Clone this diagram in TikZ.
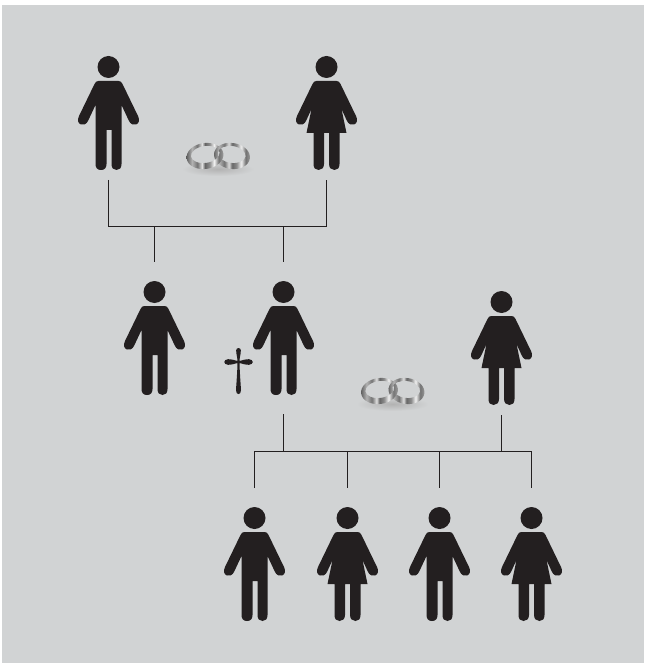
\documentclass[tikz,border=0pt]{standalone}
\usepackage{amsmath,amssymb,graphicx,tikz}
\usetikzlibrary{calc}

\definecolor{paper}{HTML}{D1D3D4}
\definecolor{ink}{HTML}{231F20}
\pgfdeclarehorizontalshading{metal}{100bp}{
  color(0bp)=(black!75); color(25bp)=(black!65); color(33bp)=(black!30); color(40bp)=(black!55);
  color(46bp)=(black!12); color(50bp)=(black!60); color(56bp)=(black!45); color(62bp)=(black!5);
  color(68bp)=(black!55); color(76bp)=(black!35); color(100bp)=(black!75)}

\tikzset{
  figure/.style={fill=ink, draw=none},
  wire/.style={draw=ink, line width=0.8pt},
  even odd clip/.code={\pgfseteorule},
  man/.pic={
    \fill[figure] (0,0) circle (11);
    \fill[figure] (-10,14) -- (10,14) .. controls (12,14) and (13,15) .. (14,17)
      -- (29.500,49) .. controls (31.500,53) and (30.500,56.500) .. (27.500,57.500) .. controls (25,58.500) and (22,57) .. (20.500,54)
      -- (13,38) -- (13,97) .. controls (13,101) and (11,103) .. (8,103) .. controls (5,103) and (3,101) .. (3,97)
      -- (3,63) -- (-2,63) -- (-2,97) .. controls (-2,101) and (-4,103) .. (-7.500,103) .. controls (-11,103) and (-13,101) .. (-13,97)
      -- (-13,38) -- (-20.500,54) .. controls (-22,57) and (-25,58.500) .. (-27.500,57.500) .. controls (-30.500,56.500) and (-31.500,53) .. (-29.500,49)
      -- (-14,17) .. controls (-13,15) and (-12,14) .. (-10,14) -- cycle;
    \coordinate (-top) at (0,-30);
    \coordinate (-feet) at (0,113);
  },
  woman/.pic={
    \fill[figure] (0,0) circle (11);
    \fill[figure] (-10,14) -- (10,14) .. controls (12,14) and (13,15) .. (14,17)
      -- (29.500,49) .. controls (31.500,53) and (30.500,56.500) .. (27.500,57.500) .. controls (25,58.500) and (22,57) .. (20.500,54)
      -- (15,42) -- (20,66) -- (13,66) -- (13,97) .. controls (13,101) and (11,103) .. (8,103) .. controls (5,103) and (2.500,101) .. (2.500,97)
      -- (2.500,66) -- (-2.500,66) -- (-2.500,97) .. controls (-2.500,101) and (-5,103) .. (-8,103) .. controls (-11,103) and (-13,101) .. (-13,97)
      -- (-13,66) -- (-20,66) -- (-15,42) -- (-20.500,54) .. controls (-22,57) and (-25,58.500) .. (-27.500,57.500) .. controls (-30.500,56.500) and (-31.500,53) .. (-29.500,49)
      -- (-14,17) .. controls (-13,15) and (-12,14) .. (-10,14) -- cycle;
    \coordinate (-top) at (0,-30);
    \coordinate (-feet) at (0,113);
  },
  rings/.pic={
    \shade[inner color=black!30, outer color=paper] (0,13) ellipse (36 and 7);
    % right ring
    \begin{scope}
      \clip[even odd clip, rotate around={-8:(14,0)}] (14,0) ellipse (18 and 13) (13.500,-1.500) ellipse (14 and 8.500);
      \shade[shading=metal] (-5,-15) rectangle (33,15);
    \end{scope}
    % left ring
    \begin{scope}
      \clip[even odd clip, rotate around={8:(-13,0)}] (-13,0) ellipse (18.500 and 13) (-12.500,-1.500) ellipse (14.500 and 8.500);
      \shade[shading=metal] (-32,-15) rectangle (6,15);
    \end{scope}
    % right ring again, where it passes over the left one
    \begin{scope}
      \clip (-5,-16) rectangle (10,-3);
      \clip[even odd clip, rotate around={-8:(14,0)}] (14,0) ellipse (18 and 13) (13.500,-1.500) ellipse (14 and 8.500);
      \shade[shading=metal] (-5,-15) rectangle (33,15);
    \end{scope}
  },
  cross/.pic={
    \fill[ink] (0,-14) .. controls (2.800,-14) and (2.800,-10) .. (2,-8)
      .. controls (1.200,-4) and (1,-2) .. (1,-1)
      .. controls (3,-1.400) and (7,-3) .. (10.500,-2.800)
      .. controls (15.500,-2.500) and (15.500,2.500) .. (10.500,2.800)
      .. controls (7,3) and (3,1.400) .. (1,1)
      .. controls (1.200,10) and (2,20) .. (2.500,28)
      .. controls (2.600,33.500) and (-2.600,33.500) .. (-2.500,28)
      .. controls (-2,20) and (-1.200,10) .. (-1,1)
      .. controls (-3,1.400) and (-7,3) .. (-10.500,2.800)
      .. controls (-15.500,2.500) and (-15.500,-2.500) .. (-10.500,-2.800)
      .. controls (-7,-3) and (-3,-1.400) .. (-1,-1)
      .. controls (-1,-2) and (-1.200,-4) .. (-2,-8)
      .. controls (-2.800,-10) and (-2.800,-14) .. (0,-14) -- cycle;
  }
}

\begin{document}
\begin{tikzpicture}[x=0.75pt,y=-0.75pt]
  \useasboundingbox (0,0) rectangle (646,666);
  \fill[paper] (2,5) rectangle (644,663);

  % grandparents
  \pic (grandpa) at (108.500,67) {man};
  \pic (grandma) at (326.500,67) {woman};
  \pic (ringsA) at (218,156) {rings};

  % their sons
  \pic (uncle) at (154.500,292) {man};
  \pic (father) at (283.500,292) {man};
  \pic (crossA) at (238.500,362) {cross};

  % mother
  \pic (mother) at (501.500,302) {woman};
  \pic (ringsB) at (392.500,391) {rings};

  % children
  \pic (childA) at (254.500,518) {man};
  \pic (childB) at (347.500,518) {woman};
  \pic (childC) at (439.500,518) {man};
  \pic (childD) at (531.500,518) {woman};

  \coordinate (busA) at (154.500,226.500);
  \coordinate (busB) at (283.500,226.500);
  \coordinate (fatherdrop) at (283.500,414);
  \coordinate (busC) at (283.500,451.500);
  \coordinate (busD) at (501.500,451.500);
  \coordinate (busE) at (254.500,451.500);
  \coordinate (busF) at (347.500,451.500);
  \coordinate (busG) at (439.500,451.500);
  \coordinate (busH) at (531.500,451.500);

  \draw[wire] (grandpa-feet) |- (busA) -- (busB) -| (grandma-feet);
  \draw[wire] (busA) -- (uncle-top);
  \draw[wire] (busB) -- (father-top);

  \draw[wire] (fatherdrop) -- (busC);
  \draw[wire] (mother-feet) -- (busD);
  \draw[wire] (childA-top) |- (busE) -- (busH) -- (childD-top);
  \draw[wire] (busF) -- (childB-top);
  \draw[wire] (busG) -- (childC-top);
\end{tikzpicture}
\end{document}
